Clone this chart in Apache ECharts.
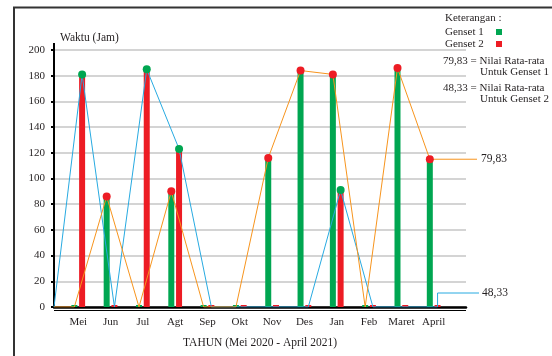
<!DOCTYPE html>
<html>
<head>
<meta charset="utf-8">
<script src="https://cdn.jsdelivr.net/npm/echarts@6/dist/echarts.min.js"></script>
<style>
  html, body { margin: 0; padding: 0; background: #fff; }
  #chart { width: 552px; height: 356px; }
</style>
</head>
<body>
<div id="chart"></div>
<script>
// bulan (Mei 2020 - April 2021)
var months = ['Mei', 'Jun', 'Jul', 'Agt', 'Sep', 'Okt', 'Nov', 'Des', 'Jan', 'Feb', 'Maret', 'April']
// waktu operasi (jam)
var genset1 = [0, 86, 0, 90, 0, 0, 116, 184, 181, 0, 186, 115]
var genset2 = [181, 0, 185, 123, 0, 0, 0, 0, 91, 0, 0, 0]
var yTicks = [0, 200, 20]
var avg1 = '79,83'
var avg2 = '48,33'

var font = 'Liberation Serif'
var ink = '#231f20'
var green = '#00a651'
var red = '#ed1c24'

// posisi x tiap bulan di sumbu nilai, batang digeser sedikit kiri/kanan
function pos(i, shift) {
	return i + 0.75 + shift
}
var barData1 = genset1.map(function (v, i) { return [pos(i, -0.12), v] })
var barData2 = genset2.map(function (v, i) { return [pos(i, 0.12), v] })
// garis mulai dari titik nol
var lineData1 = [[0, 0]].concat(barData1)
var lineData2 = [[0, 0]].concat(barData2)

var chart = echarts.init(document.getElementById('chart'))
chart.setOption({
	animation: false,
	backgroundColor: '#fff',
	grid: { left: 54, right: 86, top: 50, bottom: 49, containLabel: false, outerBoundsMode: 'none' },
	xAxis: {
		type: 'value',
		min: 0,
		max: 12.75,
		interval: 0.25,
		name: 'TAHUN (Mei 2020 - April 2021)',
		nameLocation: 'middle',
		nameGap: 30,
		nameTextStyle: { fontFamily: font, fontSize: 11.5, color: ink },
		axisLine: { lineStyle: { color: '#000', width: 2.5 } },
		axisTick: { show: false },
		splitLine: { show: false },
		axisLabel: {
			margin: 10,
			fontFamily: font,
			fontSize: 11,
			color: ink,
			showMinLabel: true,
			showMaxLabel: true,
			formatter: function (v) {
				var k = Math.round(v * 4)
				if (k % 4 !== 3) return ''
				return months[(k - 3) / 4] || ''
			}
		}
	},
	yAxis: {
		type: 'value',
		min: yTicks[0],
		max: yTicks[1],
		interval: yTicks[2],
		name: 'Waktu (Jam)',
		nameLocation: 'end',
		nameGap: 6,
		nameTextStyle: { fontFamily: font, fontSize: 11.5, color: ink, align: 'left', padding: [0, 0, 0, 6] },
		axisLine: { show: true, lineStyle: { color: '#000', width: 2 } },
		axisTick: { show: true, length: 3, lineStyle: { color: '#000', width: 2 } },
		axisLabel: { margin: 9, fontFamily: font, fontSize: 11, color: ink },
		splitLine: { lineStyle: { color: '#d4d4d4', width: 2 } }
	},
	series: [
		{
			name: 'Genset 1',
			type: 'bar',
			data: barData1,
			barWidth: 6,
			barGap: '-100%',
			barMinHeight: 2,
			itemStyle: { color: green },
			z: 2
		},
		{
			name: 'Genset 2',
			type: 'bar',
			data: barData2,
			barWidth: 6,
			barGap: '-100%',
			barMinHeight: 2,
			itemStyle: { color: red },
			z: 2
		},
		{
			name: 'Garis Genset 1',
			type: 'line',
			data: lineData1,
			symbol: 'circle',
			symbolSize: function (val) { return val[1] > 0 ? 8 : 0 },
			lineStyle: { color: '#f7941d', width: 1 },
			itemStyle: { color: red },
			z: 4
		},
		{
			name: 'Garis Genset 2',
			type: 'line',
			data: lineData2,
			symbol: 'circle',
			symbolSize: function (val) { return val[1] > 0 ? 8 : 0 },
			lineStyle: { color: '#27aae1', width: 1 },
			itemStyle: { color: green },
			z: 3
		}
	]
})

// keterangan dan garis penunjuk rata-rata
var last = months.length - 1
var p1 = chart.convertToPixel({ gridIndex: 0 }, barData1[last])
var p2 = chart.convertToPixel({ gridIndex: 0 }, barData2[last])
var x0 = chart.convertToPixel({ gridIndex: 0 }, [0, 0])
var xEnd = chart.convertToPixel({ gridIndex: 0 }, [12.75, 200])
var txt = function (x, y, s, size) {
	return { type: 'text', left: x, top: y, style: { text: s, fontFamily: font, fontSize: size || 11, fill: ink } }
}

chart.setOption({
	graphic: [
		{ type: 'rect', shape: { x: 14, y: 7.5, width: 620, height: 400 }, style: { fill: 'none', stroke: '#333', lineWidth: 2 } },
		{ type: 'line', shape: { x1: x0[0], y1: 43, x2: x0[0], y2: 50 }, style: { stroke: '#000', lineWidth: 2 } },
		{ type: 'line', shape: { x1: x0[0], y1: x0[1] + 3.5, x2: xEnd[0], y2: x0[1] + 3.5 }, style: { stroke: '#000', lineWidth: 1.2 } },
		{ type: 'line', shape: { x1: p1[0], y1: p1[1], x2: 477, y2: p1[1] }, style: { stroke: '#f7941d', lineWidth: 1 }, z: 3 },
		{ type: 'polyline', shape: { points: [[p2[0], p2[1]], [p2[0], 293], [479, 293]] }, style: { stroke: '#27aae1', fill: null, lineWidth: 1 }, z: 3 },
		txt(481, p1[1] - 6, avg1, 11.5),
		txt(482, 287, avg2, 11.5),
		txt(445, 13, 'Keterangan :'),
		txt(445, 27, 'Genset 1'),
		txt(445, 39, 'Genset 2'),
		{ type: 'rect', shape: { x: 496, y: 29, width: 6, height: 6 }, style: { fill: green } },
		{ type: 'rect', shape: { x: 496, y: 41, width: 6, height: 6 }, style: { fill: red } },
		txt(443, 56, avg1 + ' = Nilai Rata-rata'),
		txt(480, 67, 'Untuk Genset 1'),
		txt(443, 83, avg2 + ' = Nilai Rata-rata'),
		txt(480, 94, 'Untuk Genset 2')
	]
})
</script>
</body>
</html>
